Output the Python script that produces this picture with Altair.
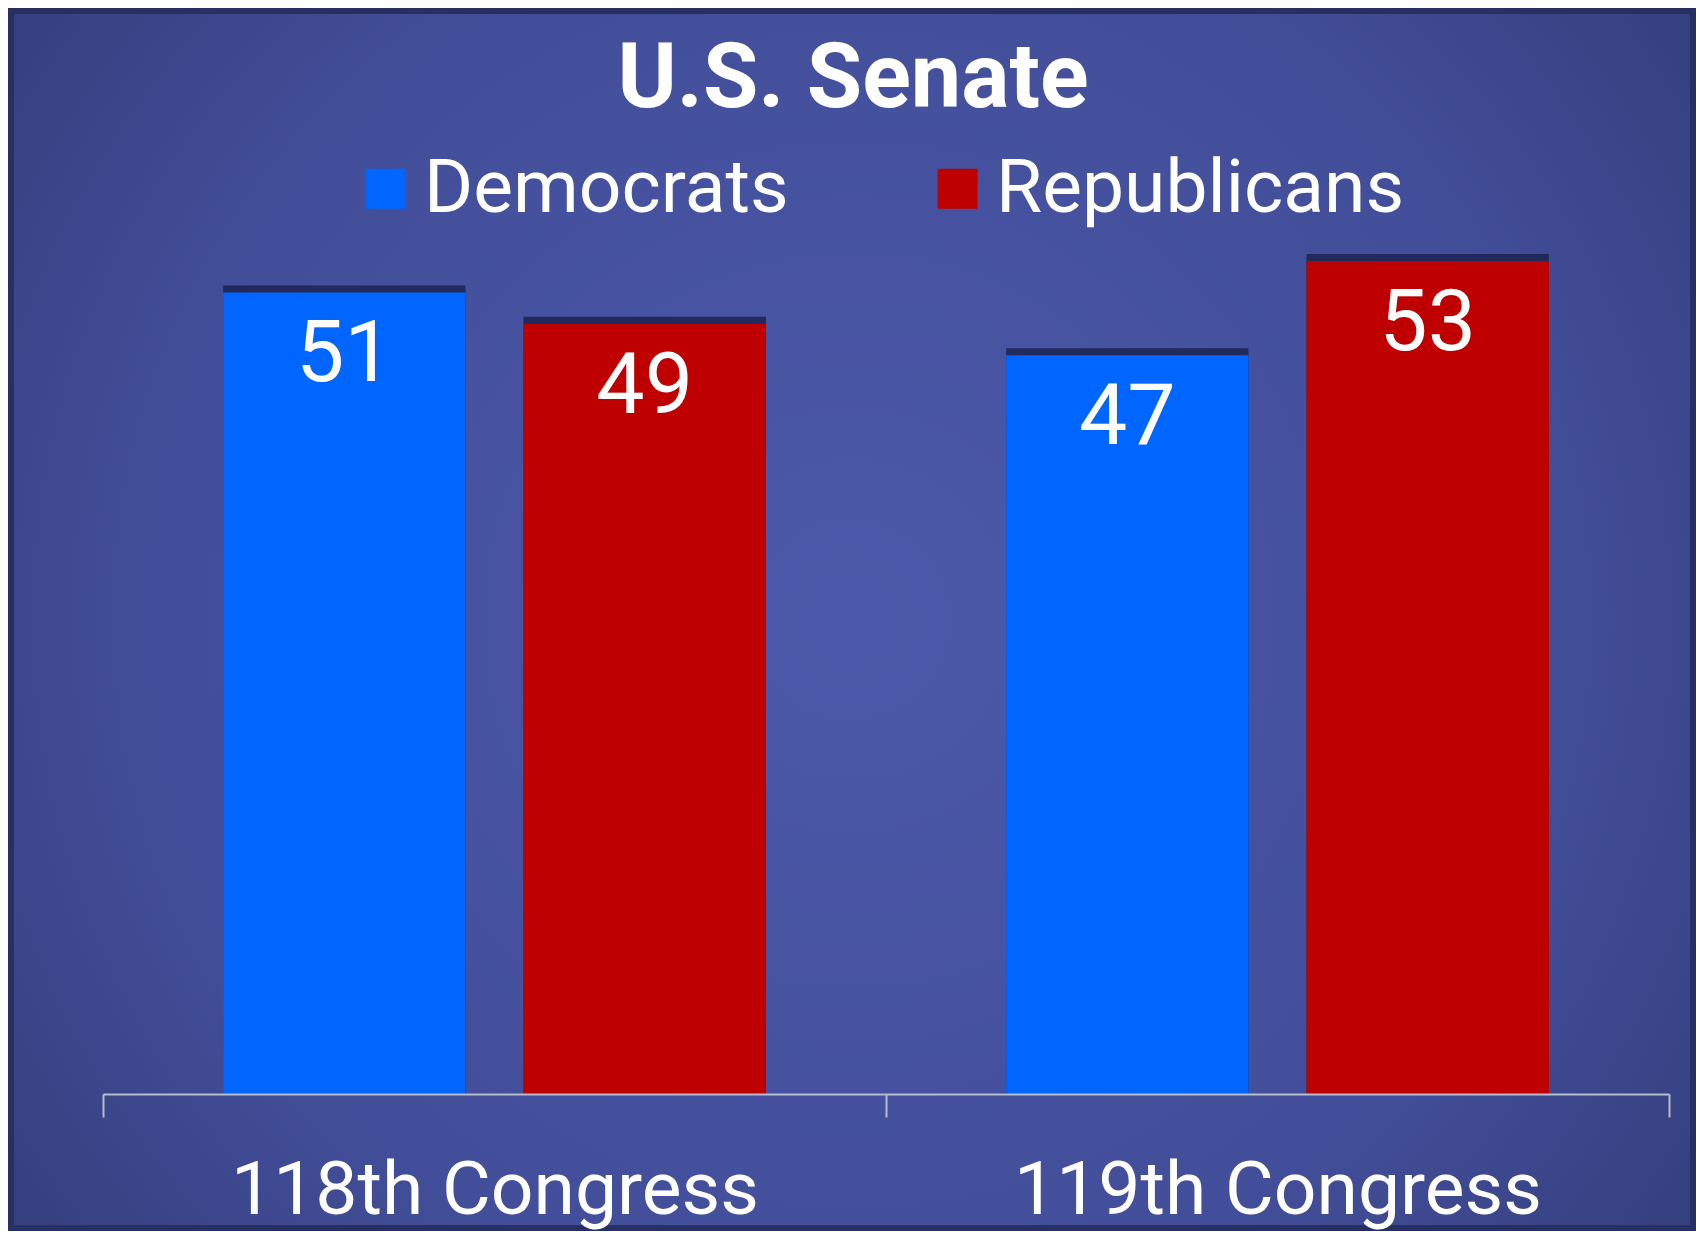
import altair as alt
import pandas as pd

# ---- data ----
congresses = ["118th Congress", "119th Congress"]
parties = ["Democrats", "Republicans"]
democrats = [51, 47]
republicans = [49, 53]
party_colors = ["#0066ff", "#bf0000"]
chart_title = "U.S. Senate"

rows = []
for i, c in enumerate(congresses):
    rows.append({"congress": c, "party": parties[0], "seats": democrats[i]})
    rows.append({"congress": c, "party": parties[1], "seats": republicans[i]})
df = pd.DataFrame(rows)

FONT = "Roboto"

x_enc = alt.X("congress:N", sort=congresses,
              scale=alt.Scale(paddingInner=0, paddingOuter=0),
              axis=alt.Axis(title=None, labelAngle=0, labelFontSize=75, labelColor="white",
                            labelFont=FONT, labelBaseline="alphabetic", labelPadding=96,
                            labelLimit=2000,
                            domainColor="#b7bccb", domainWidth=2, tickColor="#b7bccb",
                            tickWidth=2, tickSize=23, tickBand="extent", grid=False,
                            zindex=1))
xo_enc = alt.XOffset("party:N", sort=parties,
                     scale=alt.Scale(paddingInner=0.193, paddingOuter=0.4))
y_enc = alt.Y("seats:Q", stack=None, axis=None,
              scale=alt.Scale(domain=[0, 53], nice=False, zero=True))

# background panel with radial gradient (covers whole chart)
bg = alt.Chart(alt.Data(values=[{"k": 1}])).mark_rect(
    fill={"gradient": "radial",
          "stops": [{"offset": 0, "color": "#4c59aa"},
                    {"offset": 0.55, "color": "#424e99"},
                    {"offset": 1, "color": "#2d366e"}],
          "x1": 0.5, "y1": 0.5, "x2": 0.5, "y2": 0.5, "r1": 0, "r2": 0.75},
    stroke="#283062", strokeWidth=12
).encode(x=alt.value(-95), x2=alt.value(1593), y=alt.value(-253), y2=alt.value(970))

shadow = alt.Chart(df).mark_bar(color="#1c2250", opacity=0.85, xOffset=-3, yOffset=-7).encode(
    x=x_enc, xOffset=xo_enc, y=y_enc)

bars = alt.Chart(df).mark_bar().encode(
    x=x_enc, xOffset=xo_enc, y=y_enc,
    color=alt.Color("party:N", sort=parties,
                    scale=alt.Scale(domain=parties, range=party_colors),
                    legend=alt.Legend(title=None, orient="none", legendX=245, legendY=-110,
                                      direction="horizontal", symbolType="square",
                                      symbolSize=1600, symbolStrokeWidth=0, symbolOpacity=1,
                                      labelFontSize=75, labelColor="white", labelFont=FONT,
                                      labelOffset=1, columnPadding=131, labelLimit=1000,
                                      padding=0)))

values = alt.Chart(df).mark_text(color="white", fontSize=86, font=FONT,
                                 baseline="alphabetic", align="center", dy=89).encode(
    x=x_enc, xOffset=xo_enc, y=y_enc, text="seats:Q")

title_df = alt.Data(values=[{"t": chart_title}])
title_text = alt.Chart(title_df).mark_text(
    color="white", fontSize=90, font=FONT, fontWeight="bold",
    baseline="alphabetic", align="center").encode(
    x=alt.value(750), y=alt.value(-154), text="t:N")

chart = alt.layer(bg, shadow, bars, values, title_text).properties(
    width=1566, height=833,
    padding={"left": 95, "top": 253, "right": 27, "bottom": 137},
    autosize=alt.AutoSizeParams(type="none"),
    background="#2c356c",
).configure_view(stroke=None)

chart.save("out.html", embed_options={"renderer": "svg", "actions": False})
